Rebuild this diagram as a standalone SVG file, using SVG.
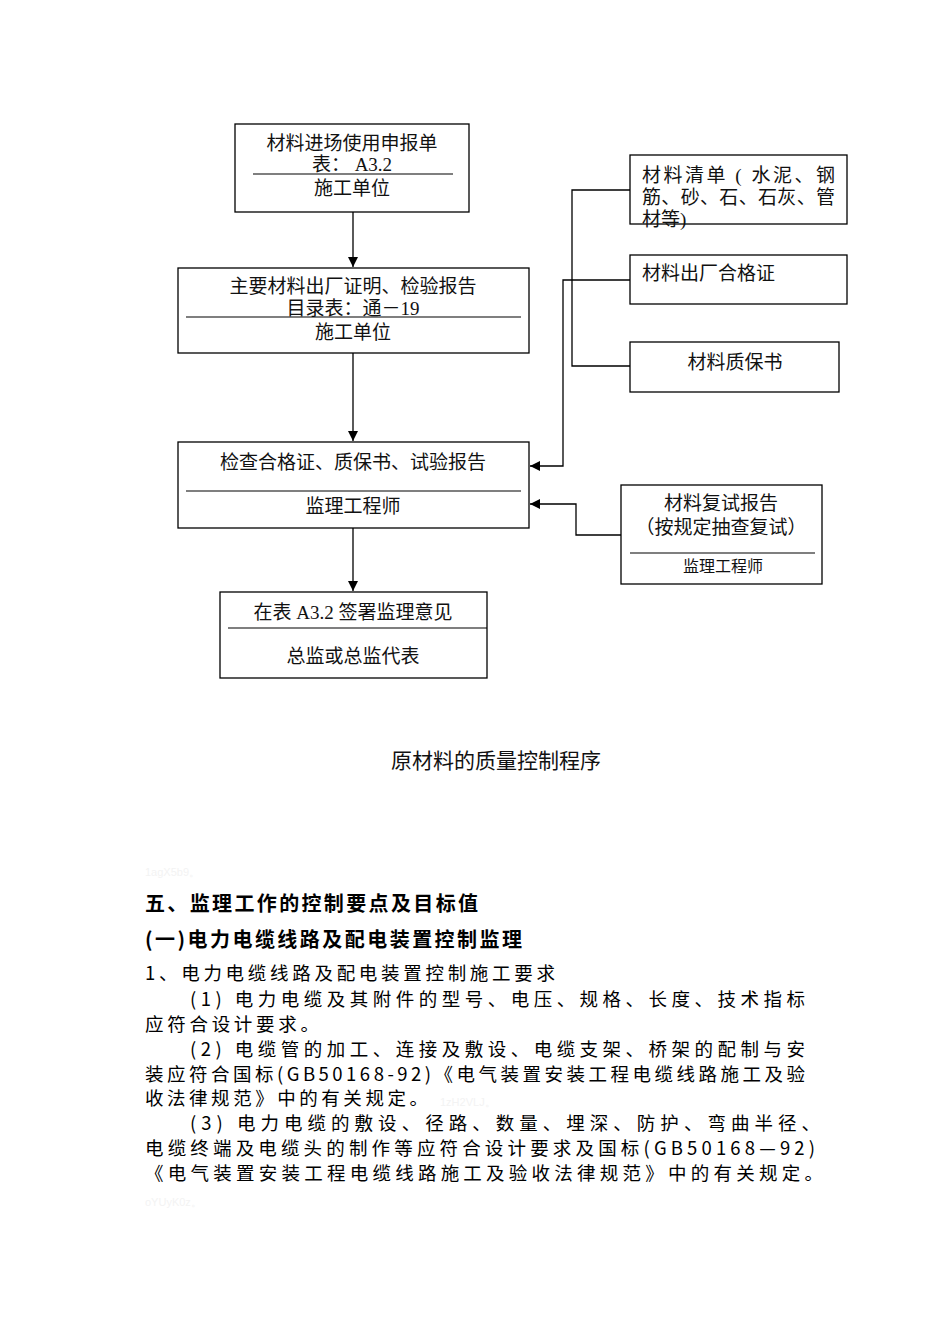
<svg xmlns="http://www.w3.org/2000/svg" width="950" height="1344" viewBox="0 0 950 1344">
<style>
.box{fill:#fff;stroke:#000;stroke-width:1.3}
.sep{stroke:#000;stroke-width:1.2}
.conn{fill:none;stroke:#000;stroke-width:1.3}
.t{font-family:"Liberation Serif","Noto Sans CJK SC",serif;font-size:19px;fill:#111}
.ts{font-family:"Liberation Serif","Noto Sans CJK SC",serif;font-size:16px;fill:#111}
.m{text-anchor:middle}
.cap{font-family:"Liberation Serif","Noto Sans CJK SC",serif;font-size:21px;fill:#111;text-anchor:middle}
.h{font-family:"Noto Sans CJK SC",sans-serif;font-size:20px;font-weight:bold;fill:#000}
.b{font-family:"Noto Sans CJK SC",sans-serif;font-size:18.5px;fill:#000}
.wm{font-family:"Liberation Sans",sans-serif;font-size:11px;fill:#f3f3f3}
</style>
<defs>
<marker id="arr" viewBox="0 0 10 10" refX="10" refY="5" markerWidth="10" markerHeight="10" markerUnits="userSpaceOnUse" orient="auto">
<path d="M0,0 L10,5 L0,10 Z" fill="#000"/>
</marker>
</defs>
<rect width="950" height="1344" fill="#fff"/>

<g id="connectors">
<line class="conn" x1="353" y1="212" x2="353" y2="267" marker-end="url(#arr)"/>
<line class="conn" x1="353" y1="353" x2="353" y2="441" marker-end="url(#arr)"/>
<line class="conn" x1="353" y1="528" x2="353" y2="591" marker-end="url(#arr)"/>
<polyline class="conn" points="630,190 572,190 572,366 630,366"/>
<polyline class="conn" points="630,280 563,280 563,466 530,466" marker-end="url(#arr)"/>
<polyline class="conn" points="621,535 576,535 576,504 530,504" marker-end="url(#arr)"/>
</g>

<g id="node-apply">
<rect class="box" x="235" y="124" width="234" height="88"/>
<text class="t m" x="352" y="150">材料进场使用申报单</text>
<text class="t m" x="352" y="171">表： A3.2</text>
<line class="sep" x1="253" y1="174" x2="453" y2="174"/>
<text class="t m" x="352" y="195">施工单位</text>
</g>

<g id="node-certs">
<rect class="box" x="178" y="268" width="351" height="85"/>
<text class="t m" x="353" y="293">主要材料出厂证明、检验报告</text>
<text class="t m" x="353" y="315">目录表：通－19</text>
<line class="sep" x1="186" y1="317" x2="521" y2="317"/>
<text class="t m" x="353" y="339">施工单位</text>
</g>

<g id="node-check">
<rect class="box" x="178" y="442" width="351" height="86"/>
<text class="t m" x="353" y="469">检查合格证、质保书、试验报告</text>
<line class="sep" x1="186" y1="491" x2="521" y2="491"/>
<text class="t m" x="353" y="513">监理工程师</text>
</g>

<g id="node-sign">
<rect class="box" x="220" y="592" width="267" height="86"/>
<text class="t m" x="353" y="619">在表 A3.2 签署监理意见</text>
<line class="sep" x1="228" y1="628" x2="487" y2="628"/>
<text class="t m" x="353" y="663">总监或总监代表</text>
</g>

<g id="node-list">
<rect class="box" x="630" y="155" width="217" height="69"/>
<text class="t" x="642" y="182" textLength="193" lengthAdjust="spacing">材料清单 ( 水泥、钢</text>
<text class="t" x="642" y="204" textLength="193" lengthAdjust="spacing">筋、砂、石、石灰、管</text>
<text class="t" x="642" y="226">材等)</text>
</g>

<g id="node-factory">
<rect class="box" x="630" y="255" width="217" height="49"/>
<text class="t" x="642" y="280">材料出厂合格证</text>
</g>

<g id="node-warranty">
<rect class="box" x="630" y="342" width="209" height="50"/>
<text class="t m" x="735" y="369">材料质保书</text>
</g>

<g id="node-retest">
<rect class="box" x="621" y="485" width="201" height="99"/>
<text class="t m" x="721" y="510">材料复试报告</text>
<text class="t m" x="721" y="534">（按规定抽查复试）</text>
<line class="sep" x1="630" y1="553" x2="815" y2="553"/>
<text class="ts m" x="723" y="572">监理工程师</text>
</g>

<text class="cap" x="496" y="768">原材料的质量控制程序</text>

<text class="wm" x="145" y="876">1agX5b9。</text>
<text class="wm" x="440" y="1106">1zH2VLJ。</text>
<text class="wm" x="145" y="1206">oYUyK0z。</text>

<text class="h" x="145" y="911" textLength="333" lengthAdjust="spacing">五、监理工作的控制要点及目标值</text>
<text class="h" x="145" y="947" textLength="377" lengthAdjust="spacing">(一)电力电缆线路及配电装置控制监理</text>

<text class="b" x="145" y="980" textLength="410" lengthAdjust="spacing">1、电力电缆线路及配电装置控制施工要求</text>
<text class="b" x="190" y="1006" textLength="615" lengthAdjust="spacing">(1) 电力电缆及其附件的型号、电压、规格、长度、技术指标</text>
<text class="b" x="145" y="1031" textLength="174" lengthAdjust="spacing">应符合设计要求。</text>
<text class="b" x="190" y="1056" textLength="615" lengthAdjust="spacing">(2) 电缆管的加工、连接及敷设、电缆支架、桥架的配制与安</text>
<text class="b" x="145" y="1081" textLength="660" lengthAdjust="spacing">装应符合国标(GB50168-92)《电气装置安装工程电缆线路施工及验</text>
<text class="b" x="145" y="1105" textLength="283" lengthAdjust="spacing">收法律规范》中的有关规定。</text>
<text class="b" x="190" y="1130" textLength="630" lengthAdjust="spacing">(3) 电力电缆的敷设、径路、数量、埋深、防护、弯曲半径、</text>
<text class="b" x="145" y="1155" textLength="670" lengthAdjust="spacing">电缆终端及电缆头的制作等应符合设计要求及国标(GB50168—92)</text>
<text class="b" x="145" y="1180" textLength="678" lengthAdjust="spacing">《电气装置安装工程电缆线路施工及验收法律规范》中的有关规定。</text>
</svg>
